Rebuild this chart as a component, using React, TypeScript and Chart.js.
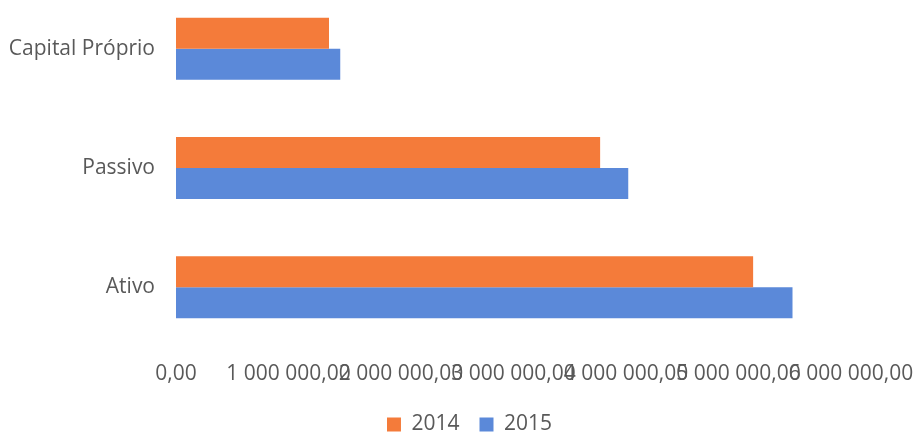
import React, { useEffect, useRef } from "react";
import { Chart, registerables } from "chart.js";

Chart.register(...registerables);

const categories = ["Capital Próprio", "Passivo", "Ativo"];
const series2014 = [1360000, 3770000, 5130000];
const series2015 = [1460000, 4020000, 5480000];
const seriesNames = ["2014", "2015"];
const axisMin = 0;
const axisMax = 6000000;
const axisStep = 1000000;

function formatPt(v: number): string {
  const fixed = Math.abs(v).toFixed(2);
  const [intPart, dec] = fixed.split(".");
  const grouped = intPart.replace(/\B(?=(\d{3})+(?!\d))/g, " ");
  return (v < 0 ? "-" : "") + grouped + "," + dec;
}

const legendShift = {
  id: "legendShift",
  afterLayout(chart: any) {
    const l = chart.legend;
    if (l) {
      l.left += 12;
      l.right += 12;
    }
  },
};

export default function App() {
  const ref = useRef<HTMLCanvasElement | null>(null);

  useEffect(() => {
    if (!ref.current) return;
    const font = { family: "'Open Sans', sans-serif", size: 21 };
    const chart = new Chart(ref.current, {
      type: "bar",
      data: {
        labels: categories,
        datasets: [
          {
            label: seriesNames[0],
            data: series2014,
            backgroundColor: "#F47B3A",
            barPercentage: 1,
            categoryPercentage: 0.52,
          },
          {
            label: seriesNames[1],
            data: series2015,
            backgroundColor: "#5B89D9",
            barPercentage: 1,
            categoryPercentage: 0.52,
          },
        ],
      },
      plugins: [legendShift],
      options: {
        indexAxis: "y",
        animation: false,
        responsive: false,
        maintainAspectRatio: false,
        layout: { padding: 0 },
        plugins: {
          tooltip: { enabled: false },
          legend: {
            position: "bottom",
            labels: {
              font,
              color: "#595959",
              boxWidth: 14,
              boxHeight: 14,
              padding: 20,
            },
          },
        },
        scales: {
          x: {
            min: axisMin,
            max: axisMax,
            grid: { display: false, drawTicks: false },
            border: { display: false },
            ticks: {
              stepSize: axisStep,
              autoSkip: false,
              maxRotation: 0,
              minRotation: 0,
              padding: 14,
              color: "#595959",
              font,
              callback: (v: any) => formatPt(Number(v)),
            },
            afterFit: (scale: any) => {
              scale.height = 47;
              scale.paddingRight = 64;
            },
          },
          y: {
            grid: { display: false, drawTicks: false },
            border: { display: false },
            ticks: {
              padding: 21,
              color: "#595959",
              font,
            },
            afterFit: (scale: any) => {
              scale.width = 176;
              scale.paddingTop = 0;
              scale.paddingBottom = 0;
            },
          },
        },
      },
    });
    return () => chart.destroy();
  }, []);

  return (
    <div style={{ position: "absolute", left: 0, top: -11, width: 915, height: 456 }}>
      <canvas ref={ref} width={915} height={456} style={{ display: "block" }} />
    </div>
  );
}
